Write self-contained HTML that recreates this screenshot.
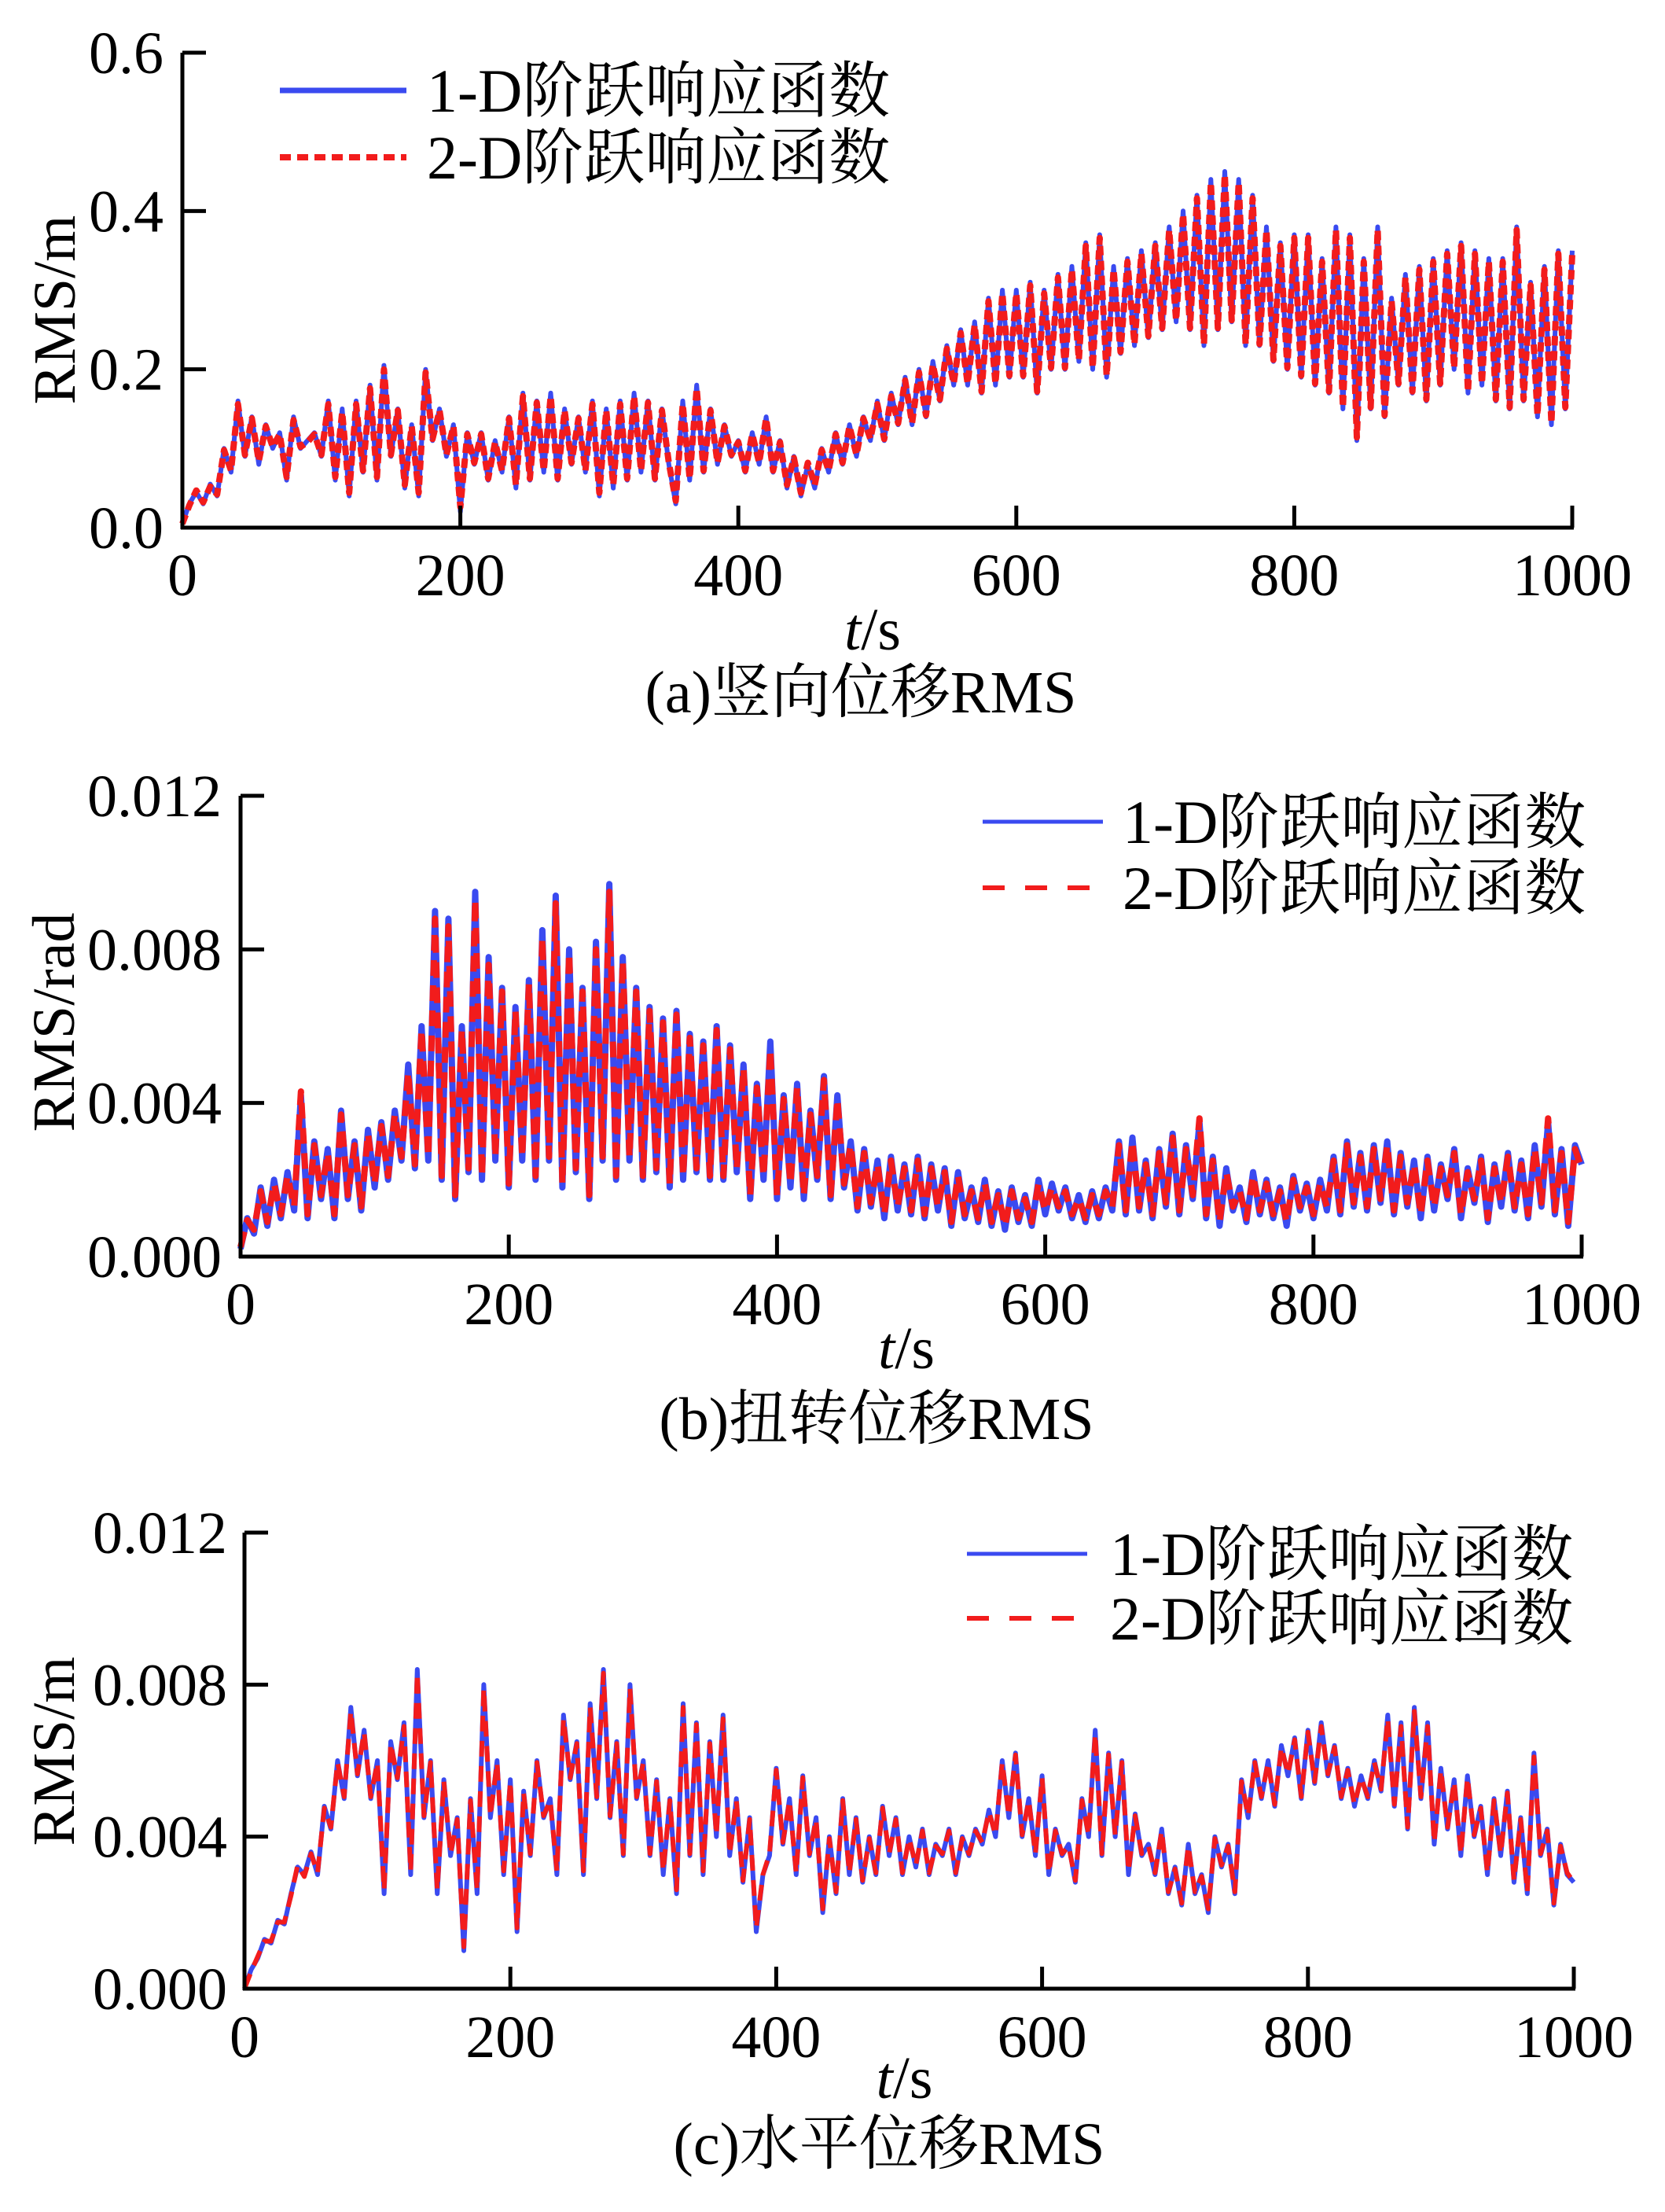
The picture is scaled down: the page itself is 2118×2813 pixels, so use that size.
<!DOCTYPE html>
<html><head><meta charset="utf-8"><style>
html,body{margin:0;padding:0;background:#fff}
svg{display:block}
text{font-family:"Liberation Serif","Noto Serif CJK SC",serif;fill:#000}
</style></head><body>
<svg id="fig" width="2118" height="2813" viewBox="0 0 2118 2813" xmlns="http://www.w3.org/2000/svg"></svg>
<script>
const tStep = 5;
const aBlue = [5,30,45,30,55,40,100,70,160,90,140,80,130,100,120,60,140,100,110,120,90,160,60,150,40,160,70,180,60,205,90,150,50,130,40,200,110,150,90,130,20,120,80,120,60,110,70,140,50,170,60,160,70,170,60,150,80,140,70,160,40,150,50,160,60,170,70,160,60,150,80,30,160,60,180,70,150,80,130,90,110,70,120,80,140,70,110,50,90,40,80,50,100,70,120,80,130,90,140,110,160,110,170,130,190,130,200,140,210,160,230,180,250,180,260,170,290,180,300,190,300,190,310,170,300,200,320,200,330,210,360,200,370,190,330,220,340,230,350,240,360,250,380,260,400,250,420,230,440,250,450,260,440,230,420,230,380,210,360,200,370,190,370,180,340,170,380,150,370,110,340,150,380,140,290,180,320,170,330,160,340,180,350,200,360,170,350,180,340,160,340,150,380,160,310,140,330,130,350,150,350];
const aRed = [5,28,47,32,52,42,98,72,156,92,138,84,128,102,118,64,136,102,108,118,92,156,64,146,44,156,72,176,64,200,92,148,54,128,44,196,112,148,92,128,26,118,82,118,62,108,72,138,54,166,62,158,72,166,62,148,82,138,72,156,44,148,54,156,62,166,72,158,62,148,82,34,156,62,176,72,148,82,128,92,108,72,118,82,138,72,108,54,88,44,82,54,98,72,118,82,128,92,138,112,156,112,166,132,186,132,196,142,206,162,226,182,246,182,256,172,286,182,296,192,296,192,306,172,296,202,316,202,326,212,356,202,366,192,326,222,336,232,346,242,356,252,376,262,396,252,416,232,436,252,446,262,436,232,416,232,376,212,356,202,366,192,366,182,336,172,376,152,366,114,336,152,376,142,286,182,316,172,326,162,336,182,346,202,356,172,346,182,336,162,336,152,376,162,306,142,326,132,346,152,346];
const bBlue = [20,100,60,180,80,200,100,220,120,420,100,300,150,280,100,380,150,300,120,330,180,350,200,380,250,500,230,600,250,900,200,880,150,600,220,950,200,780,250,700,180,650,250,720,200,850,250,940,180,800,220,700,150,820,250,970,200,780,250,700,200,650,220,620,180,640,200,580,220,560,200,600,200,550,220,500,150,450,200,560,150,420,180,450,150,380,200,470,150,420,180,300,120,280,130,250,100,260,120,240,110,260,100,240,120,230,80,220,100,180,90,200,80,170,70,180,90,160,80,200,110,190,120,180,100,160,90,170,100,180,120,300,110,310,120,250,100,280,130,320,110,290,150,350,100,260,80,230,120,180,90,220,110,200,100,180,80,210,120,190,100,200,120,260,110,300,130,270,120,290,140,300,110,270,130,250,100,260,120,240,150,280,100,230,140,260,90,240,130,270,120,250,100,290,130,350,110,280,80,290,240];
const bRed = [25,95,70,170,90,190,110,210,130,430,110,290,160,270,110,370,160,290,130,320,190,340,210,370,260,480,240,590,260,880,210,860,160,590,230,930,210,760,260,690,190,640,260,710,210,830,260,920,190,790,230,690,160,800,260,950,210,770,260,690,210,640,230,610,190,630,210,570,230,550,210,590,210,540,230,490,160,440,210,540,160,410,190,440,160,370,210,460,160,410,190,290,130,270,140,240,110,250,130,230,120,250,110,230,130,220,90,210,110,170,100,190,90,160,80,170,100,150,90,190,120,180,130,170,110,150,100,160,110,170,130,290,120,300,130,240,110,270,140,310,120,280,160,360,110,250,90,220,130,170,100,210,120,190,110,170,90,200,130,180,110,190,130,250,120,290,140,260,130,280,150,290,120,260,140,240,110,250,130,230,160,270,110,220,150,250,100,230,140,260,130,240,110,280,140,360,120,270,90,280,230];
const cBlue = [0,50,80,130,120,180,170,250,320,300,360,300,480,420,600,500,740,560,680,500,600,250,650,550,700,300,840,450,600,250,550,350,450,100,500,250,800,450,600,300,550,150,520,350,600,450,500,300,720,550,650,300,750,500,840,450,650,350,800,500,600,350,550,300,500,250,750,350,700,300,650,400,720,350,500,280,450,150,300,350,580,380,500,300,560,350,450,200,400,250,500,300,450,280,400,300,480,350,450,300,400,320,420,300,380,350,420,300,400,350,420,380,470,400,600,450,620,400,500,350,560,300,420,350,380,280,500,400,680,350,620,400,600,300,460,350,380,300,420,250,320,220,380,250,300,200,400,320,380,250,550,450,600,500,600,480,640,560,660,500,680,540,700,560,640,500,580,480,560,500,600,520,720,480,700,420,740,500,700,380,580,420,550,350,560,400,480,300,500,350,520,280,450,250,620,350,420,220,380,300,280];
const cRed = [0,45,85,125,125,175,175,245,325,295,355,305,475,425,595,505,730,565,675,505,595,260,645,555,690,310,830,455,595,260,545,355,445,110,495,260,790,455,595,310,545,160,515,355,595,455,495,310,710,555,645,310,740,505,830,455,645,355,790,505,595,355,545,310,495,260,740,355,695,310,645,405,710,355,495,285,445,160,300,355,575,385,495,305,555,355,445,210,395,255,495,305,445,285,395,305,475,355,445,305,395,325,415,305,375,355,415,305,395,355,415,385,465,405,595,455,615,405,495,355,555,305,415,355,375,285,495,405,670,355,615,405,595,310,455,355,375,305,415,255,315,225,375,255,295,210,395,325,375,255,545,455,595,505,595,485,635,565,655,505,675,545,690,565,635,505,575,485,555,505,595,525,710,485,690,425,730,505,690,385,575,425,545,355,555,405,475,305,495,355,515,285,445,255,610,355,415,225,375,305,280];
const aTicksY = ["0.0","0.2","0.4","0.6"];
const aTickVals = [0,0.2,0.4,0.6];
const bcTicksY = ["0.000","0.004","0.008","0.012"];
const bcTickVals = [0,0.004,0.008,0.012];
const xTicks = ["0","200","400","600","800","1000"];
const xTickVals = [0,200,400,600,800,1000];
const legendLabels = ["1-D阶跃响应函数","2-D阶跃响应函数"];

const NS="http://www.w3.org/2000/svg";
const svg=document.getElementById('fig');
function mk(tag,attrs,parent){const e=document.createElementNS(NS,tag);for(const k in attrs)e.setAttribute(k,attrs[k]);(parent||svg).appendChild(e);return e;}

const panels=[
 {id:'a',x0:232,x1:2000,y0:671,y1:67,ymax:0.6,scale:0.001,blue:aBlue,red:aRed,ticks:aTicksY,tickVals:aTickVals,ylabel:'RMS/m',ylx:69,yly:394,tickRight:208,xlabY:757,tsY:800,cap:'(a)竖向位移RMS',capX:1095,capY:906,
  leg:{lx0:356,lx1:517,y1:115,y2:200,tx:543},bw:6,rw:8,dash:'12 7'},
 {id:'b',x0:306,x1:2012,y0:1598,y1:1012,ymax:0.012,scale:0.00001,blue:bBlue,red:bRed,ticks:bcTicksY,tickVals:bcTickVals,ylabel:'RMS/rad',ylx:68,yly:1300,tickRight:282,xlabY:1684,tsY:1714,cap:'(b)扭转位移RMS',capX:1115,capY:1830,
  leg:{lx0:1250,lx1:1403,y1:1045,y2:1129,tx:1428},bw:8,rw:8,dash:'20 12'},
 {id:'c',x0:311,x1:2002,y0:2529,y1:1949,ymax:0.012,scale:0.00001,blue:cBlue,red:cRed,ticks:bcTicksY,tickVals:bcTickVals,ylabel:'RMS/m',ylx:68,yly:2227,tickRight:289,xlabY:2616,tsY:2642,cap:'(c)水平位移RMS',capX:1131,capY:2752,
  leg:{lx0:1230,lx1:1383,y1:1976,y2:2058,tx:1412},bw:6,rw:6,dash:'20 12'}
];

panels.forEach(p=>{
  const g=mk('g',{});
  
  
  const sx=t=>p.x0+(p.x1-p.x0)*t/1000;
  const sy=v=>p.y0-(p.y0-p.y1)*v/p.ymax;
  const pts=(arr)=>arr.map((v,i)=>sx(i*tStep).toFixed(1)+','+sy(v*p.scale).toFixed(1)).join(' ');
  const bl=mk('polyline',{points:pts(p.blue),fill:'none',stroke:'#3a4af0','stroke-width':p.bw,'stroke-linejoin':'round'},g);
  
  
  const rl=mk('polyline',{points:pts(p.red),fill:'none',stroke:'#f21c1c','stroke-width':p.rw,'stroke-dasharray':p.dash,'stroke-linejoin':'round'},g);
  
  
  const ya=mk('line',{x1:p.x0,y1:p.y1,x2:p.x0,y2:p.y0+2,stroke:'#000','stroke-width':5},g);
  
  
  const xa=mk('line',{x1:p.x0-2,y1:p.y0,x2:p.x1+2,y2:p.y0,stroke:'#000','stroke-width':5},g);
  
  
  p.tickVals.forEach((v,i)=>{
    const y=sy(v);
    if(i>0){const tk=mk('line',{x1:p.x0,y1:y,x2:p.x0+30,y2:y,stroke:'#000','stroke-width':5},g);
    
    }
    const tl=mk('text',{x:p.tickRight,y:y+26,'text-anchor':'end','font-size':76},g);
    tl.textContent=p.ticks[i];
    
    
  });
  xTickVals.forEach((v,i)=>{
    const x=sx(v);
    if(i>0){const tk=mk('line',{x1:x,y1:p.y0,x2:x,y2:p.y0-28,stroke:'#000','stroke-width':5},g);
    
    }
    const tl=mk('text',{x:x,y:p.xlabY,'text-anchor':'middle','font-size':76},g);
    tl.textContent=xTicks[i];
    
    
  });
  const yl=mk('text',{x:0,y:0,'text-anchor':'middle','font-size':76,transform:`translate(${p.ylx+26},${p.yly}) rotate(-90)`},g);
  yl.textContent=p.ylabel;
  
  
  const xt=mk('text',{x:(p.x0+p.x1)/2-6,y:p.tsY+26,'text-anchor':'middle','font-size':76},g);
  const ti=mk('tspan',{'font-style':'italic'},xt);ti.textContent='t';
  const ts=mk('tspan',{},xt);ts.textContent='/s';
  
  
  const cp=mk('text',{x:p.capX,y:p.capY,'text-anchor':'middle','font-size':76},g);
  cp.textContent=p.cap;
  
  
  const L=p.leg;
  const lb=mk('line',{x1:L.lx0,y1:L.y1,x2:L.lx1,y2:L.y1,stroke:'#3a4af0','stroke-width':p.id==='a'?7:5},g);
  
  
  const lr=mk('line',{x1:L.lx0,y1:L.y2,x2:L.lx1,y2:L.y2,stroke:'#f21c1c','stroke-width':p.id==='a'?8:6,'stroke-dasharray':p.id==='a'?'14 8':'28 26'},g);
  
  
  [L.y1,L.y2].forEach((y,i)=>{
    const t=mk('text',{x:L.tx,y:y+27,'font-size':78},g);
    t.textContent=legendLabels[i];
    
    
  });
});
</script>
</body></html>
